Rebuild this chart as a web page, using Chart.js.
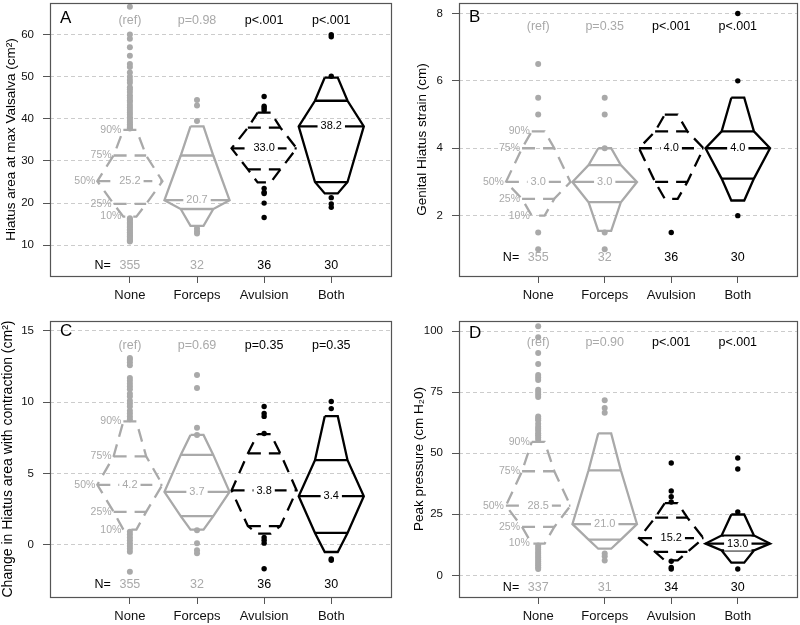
<!DOCTYPE html>
<html>
<head>
<meta charset="utf-8">
<script src="https://cdn.jsdelivr.net/npm/chart.js@4.4.0/dist/chart.umd.min.js"></script>
<style>
body { margin: 0; background: #fff; }
#wrap { position: relative; width: 800px; height: 625px; }
canvas { position: absolute; }
</style>
</head>
<body>
<div id="wrap">
  <canvas id="panelA" style="left:0;top:0" width="400" height="310"></canvas>
  <canvas id="panelB" style="left:400px;top:0" width="400" height="310"></canvas>
  <canvas id="panelC" style="left:0;top:310px" width="400" height="315"></canvas>
  <canvas id="panelD" style="left:400px;top:310px" width="400" height="315"></canvas>
</div>
<script>
var groups = ["None", "Forceps", "Avulsion", "Both"];
var pctLevels = [10, 25, 50, 75, 90];

// A - hiatus area at max Valsalva; percentiles are [10, 25, 50, 75, 90]
var areaTicks = [10, 20, 30, 40, 50, 60];
var areaPct = [
  [16.8, 19.8, 25.2, 31.3, 37.4],
  [14.6, 18.6, 20.7, 31.3, 38.2],
  [24.9, 28.0, 33.0, 37.9, 41.5],
  [22.3, 25.0, 38.2, 44.3, 49.8]
];
var areaDots = [
  [66.6, 60, 59, 57, 55, 53, 52.3, 51, 50, 49.2, 48.6, 47.5, 47, 46.4, 45.6, 45, 44.4, 44, 43.3, 42.7, 42.1, 41.5, 41, 40.4, 40, 39.5, 39.1, 38.7, 38.3, 38, 37.7,
   16.4, 16.1, 15.8, 15.4, 15.1, 14.8, 14.4, 14.2, 13.8, 13.5, 13.1, 12.9, 12.5, 12.2, 12, 11.7, 11.3, 11.1, 10.9],
  [44.5, 43.2, 39.5, 14.0, 13.3, 12.8],
  [45.3, 43, 42.5, 42, 23.5, 22.6, 22.3, 20, 16.6],
  [60, 59.5, 50.1, 21.3, 19.8, 19]
];
var areaN = [355, 32, 36, 30];
var areaP = ["(ref)", "p=0.98", "p<.001", "p<.001"];

// B - genital hiatus strain
var strainTicks = [2, 4, 6, 8];
var strainPct = [
  [2.0, 2.5, 3.0, 4.0, 4.5],
  [1.55, 2.4, 3.0, 3.5, 4.0],
  [2.5, 3.0, 4.0, 4.5, 5.0],
  [2.45, 3.1, 4.0, 4.5, 5.5]
];
var strainDots = [
  [6.5, 5.5, 5.0, 1.5, 1.0],
  [5.5, 5.0, 4.0, 1.5, 1.0],
  [1.5],
  [8.0, 6.0, 2.0]
];
var strainN = [355, 32, 36, 30];
var strainP = ["(ref)", "p=0.35", "p<.001", "p<.001"];

// C - change in hiatus area with contraction
var changeTicks = [0, 5, 10, 15];
var changePct = [
  [1.05, 2.3, 4.2, 6.2, 8.65],
  [1.05, 2.0, 3.7, 6.3, 7.7],
  [0.77, 1.3, 3.8, 6.4, 7.75],
  [-0.52, 0.82, 3.4, 5.93, 9.02]
];
var changeDots = [
  [13.1, 13.0, 12.8, 12.6, 11.7, 11.5, 11.3, 11.1, 10.9, 10.6, 10.4, 10.1, 9.9, 9.7, 9.4, 9.2, 9.0, 8.8,
   0.9, 0.7, 0.5, 0.3, 0.1, -0.1, -0.3, -0.5, -1.9],
  [11.9, 11.0, 8.2, 7.7, 1.0, 0.1, -0.4, -0.6],
  [9.7, 9.2, 9.0, 7.8, 0.5, 0.3, 0.1, -1.7],
  [10.05, 9.55, -1.0, -1.1]
];
var changeN = [355, 32, 36, 30];
var changeP = ["(ref)", "p=0.69", "p=0.35", "p=0.35"];

// D - peak pressure
var pressureTicks = [0, 25, 50, 75, 100];
var pressurePct = [
  [13.0, 19.8, 28.5, 42.6, 54.6],
  [10.9, 14.6, 21.0, 43.0, 58.1],
  [6.1, 9.6, 15.2, 23.6, 29.6],
  [5.2, 10.2, 13.0, 16.3, 24.9]
];
var pressureDots = [
  [102, 97.5, 91, 86.5, 82, 81, 80, 76, 75, 74, 73, 65, 64.2, 63.5, 62, 60.8, 60, 59.2, 58.2, 57.3, 56.4, 55.5,
   12.2, 11.3, 10.5, 9.6, 8.8, 8, 7.3, 6.5, 5.7, 4.9, 4.1, 3.3, 2.6],
  [71.7, 68.5, 66.5, 8.9, 7.8, 6.1],
  [46, 34.5, 32.2, 30, 5.8, 3.2, 2.6],
  [48, 43.5, 26, 2.6]
];
var pressureN = [337, 31, 34, 30];
var pressureP = ["(ref)", "p=0.90", "p<.001", "p<.001"];

var grey = "#a9a9a9";
var groupColors = [grey, grey, "#000000", "#000000"];
var groupDashed = [true, false, true, false];
var shapeScale = 0.97;
var fontFamily = "'Liberation Sans', Arial, Helvetica, sans-serif";
var frameColor = "#555555";

Chart.defaults.font.family = fontFamily;
Chart.defaults.color = "#111111";

var panels = [
  {id: "panelA", letter: "A", letterY: 15, title: "Hiatus area at max Valsalva (cm²)", titleSize: 13.5, titlePad: 3,
   yMin: 2.7, yMax: 67.5, ticks: areaTicks, pct: areaPct, dots: areaDots, n: areaN, p: areaP,
   pRow: 63.3, nRow: 5.15, yWidth: 50, xHeight: 34, padTop: 1, padRight: 9},
  {id: "panelB", letter: "B", letterY: 14, title: "Genital Hiatus strain (cm)", titleSize: 13.5, titlePad: 14,
   yMin: 0.21, yMax: 8.31, ticks: strainTicks, pct: strainPct, dots: strainDots, n: strainN, p: strainP,
   pRow: 7.6, nRow: 0.75, yWidth: 59, xHeight: 34, padTop: 1, padRight: 2},
  {id: "panelC", letter: "C", letterY: 10, title: "Change in Hiatus area with contraction (cm²)", titleSize: 14, titlePad: 0,
   yMin: -3.68, yMax: 15.7, ticks: changeTicks, pct: changePct, dots: changeDots, n: changeN, p: changeP,
   pRow: 14.0, nRow: -2.8, yWidth: 50, xHeight: 28, padTop: 11, padRight: 9},
  {id: "panelD", letter: "D", letterY: 12, title: "Peak pressure (cm H₂0)", titleSize: 13.5, titlePad: 11,
   yMin: -8.86, yMax: 104.1, ticks: pressureTicks, pct: pressurePct, dots: pressureDots, n: pressureN, p: pressureP,
   pRow: 95.2, nRow: -4.8, yWidth: 59, xHeight: 28, padTop: 11, padRight: 2}
];

function halfWidths() {
  return pctLevels.map(function(q) { return Math.min(q, 100 - q) / 100 * shapeScale; });
}

function buildDatasets(pn) {
  var w = halfWidths();
  var datasets = [];
  pn.pct.forEach(function(p, g) {
    var xc = g + 1;
    var col = groupColors[g];
    var dash = groupDashed[g] ? [13, 8] : [];
    var outline = [{x: xc - w[4], y: p[4]}];
    for (var i = 4; i >= 0; i--) outline.push({x: xc + w[i], y: p[i]});
    for (var j = 0; j <= 4; j++) outline.push({x: xc - w[j], y: p[j]});
    var lineStyle = {showLine: true, borderColor: col, borderWidth: 2.3, borderDash: dash,
                     pointRadius: 0, pointHoverRadius: 0, fill: false, tension: 0};
    datasets.push(Object.assign({data: outline}, lineStyle));
    [1, 2, 3].forEach(function(k) {
      datasets.push(Object.assign({data: [{x: xc - w[k], y: p[k]}, {x: xc + w[k], y: p[k]}]}, lineStyle));
    });
    datasets.push({
      data: pn.dots[g].map(function(v) { return {x: xc, y: v}; }),
      showLine: false, pointRadius: g < 2 ? 3 : 2.7, pointHoverRadius: 3,
      backgroundColor: col, borderColor: col, borderWidth: 0
    });
  });
  return datasets;
}

function textPlugin(pn) {
  return {
    id: "panelText",
    afterDatasetsDraw: function(chart) {
      var ctx = chart.ctx, xs = chart.scales.x, ys = chart.scales.y, area = chart.chartArea;
      var w = halfWidths();
      ctx.save();
      ctx.strokeStyle = frameColor;
      ctx.lineWidth = 1.2;
      ctx.setLineDash([]);
      ctx.strokeRect(Math.round(area.left) + 0.5, Math.round(area.top) + 0.5,
                     Math.round(area.right - area.left), Math.round(area.bottom - area.top));

      ctx.textBaseline = "middle";
      // median labels
      ctx.font = "11px " + fontFamily;
      ctx.textAlign = "center";
      pn.pct.forEach(function(p, g) {
        var x = xs.getPixelForValue(g + 1), y = ys.getPixelForValue(p[2]);
        var txt = p[2].toFixed(1);
        var tw = ctx.measureText(txt).width;
        ctx.fillStyle = "#ffffff";
        ctx.fillRect(x - tw / 2 - 3, y - 7, tw + 6, 14);
        ctx.fillStyle = groupColors[g];
        ctx.fillText(txt, x, y);
      });

      // percentile labels beside the reference group
      ctx.font = "10.5px " + fontFamily;
      ctx.textAlign = "right";
      ctx.fillStyle = grey;
      pn.pct[0].forEach(function(v, i) {
        ctx.fillText(pctLevels[i] + "%", xs.getPixelForValue(1 - w[i]) - 2, ys.getPixelForValue(v));
      });

      // p values and N
      ctx.font = "12.5px " + fontFamily;
      ctx.textAlign = "center";
      var py = ys.getPixelForValue(pn.pRow), ny = ys.getPixelForValue(pn.nRow);
      groups.forEach(function(name, g) {
        var x = xs.getPixelForValue(g + 1);
        ctx.fillStyle = groupColors[g];
        ctx.fillText(pn.p[g], x, py);
        ctx.fillText(String(pn.n[g]), x, ny);
      });
      ctx.fillStyle = "#000000";
      ctx.textAlign = "right";
      ctx.fillText("N=", xs.getPixelForValue(1) - 19, ny);

      // panel letter
      ctx.font = "17px " + fontFamily;
      ctx.textAlign = "left";
      ctx.fillText(pn.letter, area.left + 10, area.top + pn.letterY);
      ctx.restore();
    }
  };
}

panels.forEach(function(pn) {
  new Chart(document.getElementById(pn.id), {
    type: "scatter",
    data: {datasets: buildDatasets(pn)},
    options: {
      responsive: false,
      animation: false,
      events: [],
      layout: {padding: {top: pn.padTop, right: pn.padRight, left: 0, bottom: 0}},
      plugins: {legend: {display: false}, tooltip: {enabled: false}},
      scales: {
        x: {
          type: "linear", min: -0.19, max: 4.89,
          afterBuildTicks: function(s) { s.ticks = [1, 2, 3, 4].map(function(v) { return {value: v}; }); },
          afterFit: function(s) { s.height = pn.xHeight; s.paddingLeft = 0; s.paddingRight = 0; },
          ticks: {callback: function(v) { return groups[v - 1]; }, font: {size: 13}, padding: 5, maxRotation: 0, color: "#111111"},
          grid: {drawOnChartArea: false, drawTicks: true, tickLength: 7, tickColor: frameColor, tickWidth: 1},
          border: {display: false}
        },
        y: {
          type: "linear", min: pn.yMin, max: pn.yMax,
          afterBuildTicks: function(s) { s.ticks = pn.ticks.map(function(v) { return {value: v}; }); },
          afterFit: function(s) { s.width = pn.yWidth; s.paddingTop = 0; s.paddingBottom = 0; },
          ticks: {font: {size: 11.5}, padding: 9, color: "#111111"},
          grid: {color: "#cccccc", lineWidth: 1, drawTicks: true, tickLength: 7, tickColor: frameColor, tickWidth: 1, tickBorderDash: []},
          border: {display: false, dash: [4, 3]},
          title: {display: true, text: pn.title, font: {size: pn.titleSize}, color: "#000000", padding: {top: pn.titlePad, bottom: 0}}
        }
      }
    },
    plugins: [textPlugin(pn)]
  });
});
</script>
</body>
</html>
